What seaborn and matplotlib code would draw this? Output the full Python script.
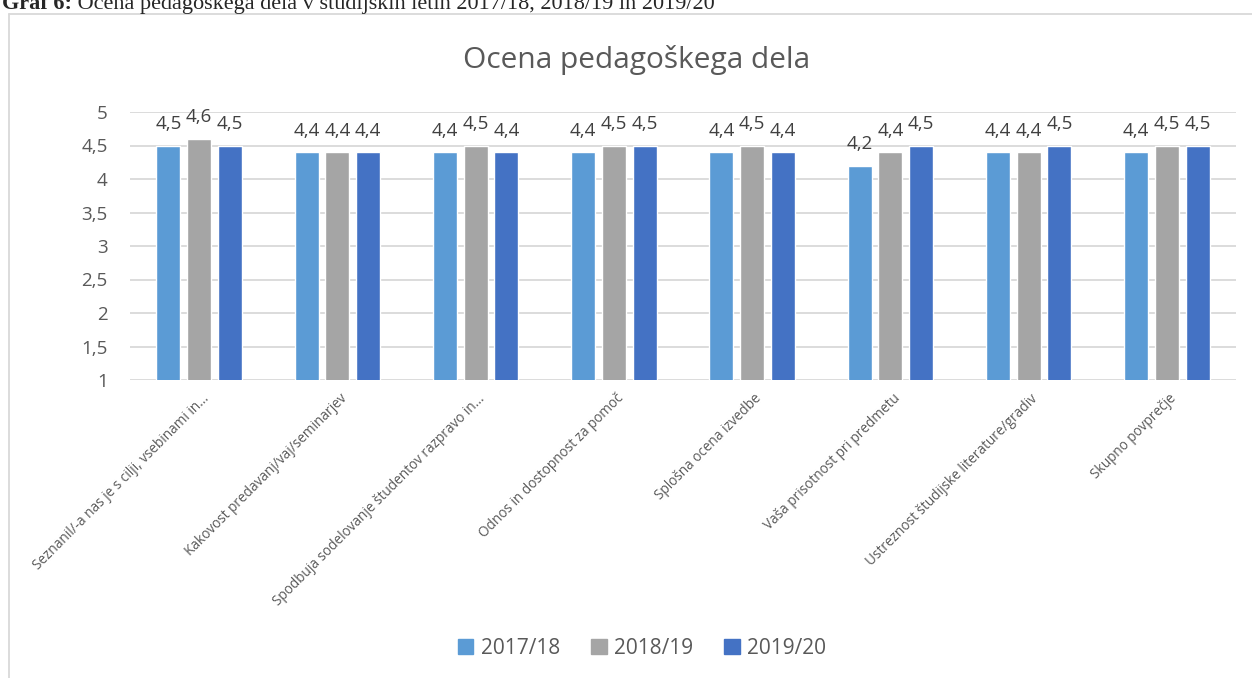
import matplotlib
matplotlib.use("Agg")
import matplotlib.pyplot as plt
import matplotlib.transforms as mtransforms
from matplotlib.patches import Patch
import pandas as pd
import seaborn as sns

categories = [
    "Seznanil/-a nas je s cilji, vsebinami in...",
    "Kakovost predavanj/vaj/seminarjev",
    "Spodbuja sodelovanje študentov razpravo in...",
    "Odnos in dostopnost za pomoč",
    "Splošna ocena izvedbe",
    "Vaša prisotnost pri predmetu",
    "Ustreznost študijske literature/gradiv",
    "Skupno povprečje",
]
years = ["2017/18", "2018/19", "2019/20"]
v_1718 = [4.5, 4.4, 4.4, 4.4, 4.4, 4.2, 4.4, 4.4]
v_1819 = [4.6, 4.4, 4.5, 4.5, 4.5, 4.4, 4.4, 4.5]
v_1920 = [4.5, 4.4, 4.4, 4.5, 4.4, 4.5, 4.5, 4.5]
colors = ["#5B9BD5", "#A5A5A5", "#4472C4"]
yticks = [1, 1.5, 2, 2.5, 3, 3.5, 4, 4.5, 5]

df = pd.DataFrame({
    "kategorija": categories * 3,
    "leto": [y for y in years for _ in categories],
    "ocena": v_1718 + v_1819 + v_1920,
})

sns.set_theme(style="white")
plt.rcParams["font.family"] = ["Open Sans", "DejaVu Sans"]
grey = "#595959"

W, H = 1252, 678
fig = plt.figure(figsize=(W / 100, H / 100), dpi=100)
ax = fig.add_axes([130 / W, 1 - 380 / H, 1106 / W, 268 / H])

sns.barplot(data=df, x="kategorija", y="ocena", hue="leto",
            palette=colors, width=0.666, gap=0.218, ax=ax,
            legend=False, saturation=1)

ax.set_ylim(1, 5)
ax.set_xlim(-0.5, len(categories) - 0.5)
ax.set_yticks(yticks)
ax.set_yticklabels([f"{t:g}".replace(".", ",") for t in yticks],
                   fontsize=13.5, color=grey)
ax.yaxis.grid(True, color="#d9d9d9", linewidth=1.3)
ax.set_axisbelow(True)
for s in ax.spines.values():
    s.set_visible(False)
ax.tick_params(axis="y", length=0, pad=16)
ax.tick_params(axis="x", length=0, pad=8)
ax.set_xlabel("")
ax.set_ylabel("")

offset = mtransforms.ScaledTranslation(0.02, 0, fig.dpi_scale_trans)
ax.set_xticks(range(len(categories)))
ax.set_xticklabels(categories, rotation=45, ha="right", va="top",
                   rotation_mode="anchor", fontsize=9.8, color=grey)
for lab in ax.get_xticklabels():
    lab.set_transform(lab.get_transform() + offset)

for cont in ax.containers:
    ax.bar_label(cont, labels=[f"{v:.1f}".replace(".", ",") for v in cont.datavalues],
                 padding=9, fontsize=13.5, color="#404040")

fig.text(637 / W, 1 - 68 / H, "Ocena pedagoškega dela", fontsize=21.5,
         color=grey, ha="center", va="baseline")

handles = [Patch(facecolor=c, edgecolor=c) for c in colors]
fig.legend(handles, years, loc="center", bbox_to_anchor=(642 / W, 1 - 648 / H),
           ncol=3, frameon=False, fontsize=15, labelcolor=grey,
           handlelength=0.75, handleheight=0.75, handletextpad=0.35, columnspacing=1.5)

# chart frame
fig.add_artist(plt.Line2D([9 / W, 1], [1 - 13.5 / H, 1 - 13.5 / H],
                          transform=fig.transFigure, color="#d9d9d9", lw=1.3))
fig.add_artist(plt.Line2D([9 / W, 9 / W], [0, 1 - 13.5 / H],
                          transform=fig.transFigure, color="#d9d9d9", lw=1.3))

# caption, cut at the top edge
t1 = fig.text(2 / W, 1 - 9 / H, "Graf 6:", fontsize=16, fontweight="bold",
              family="Liberation Serif", va="baseline")
fig.canvas.draw()
x1 = t1.get_window_extent().x1
fig.text(x1 / W, 1 - 9 / H, " Ocena pedagoškega dela v študijskih letih 2017/18, 2018/19 in 2019/20",
         fontsize=16, family="Liberation Serif", va="baseline")

fig.savefig("out.png", dpi=100)
